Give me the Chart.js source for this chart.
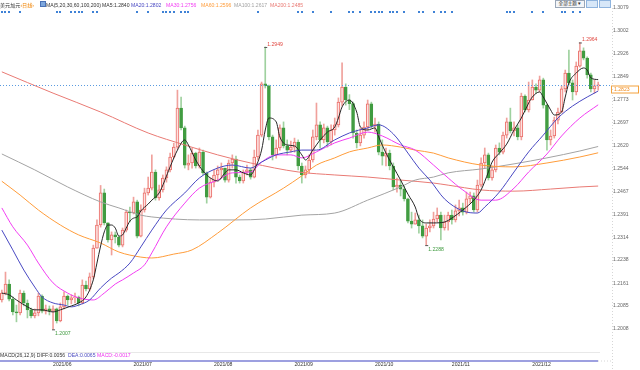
<!DOCTYPE html>
<html>
<head>
<meta charset="utf-8">
<script src="https://cdn.jsdelivr.net/npm/chart.js@4.4.1/dist/chart.umd.min.js"></script>
<style>
  html, body { margin: 0; padding: 0; background: #fff; }
  #wrap { position: relative; width: 640px; height: 370px; overflow: hidden;
          font-family: "Liberation Sans", "Noto Sans CJK SC", sans-serif; }
  #kline { position: absolute; left: 0; top: 0; }
  .t { position: absolute; font-size: 5.1px; line-height: 6px; white-space: nowrap; }
  .btn { position: absolute; top: 0; height: 6px; border: 1px solid #9aa7b8; background: #f3f5f8;
         font-size: 4.6px; line-height: 6px; color: #333; text-align: center; }
  .ico { position: absolute; top: 0; width: 10px; height: 6px; border: 1px solid #8fb4de; background: #d7e7f8; }
</style>
</head>
<body>
<div id="wrap">
  <canvas id="kline" width="640" height="370"></canvas>
  <div id="legend"></div>
  <div class="t" style="left:0;top:352px;color:#333">MACD(26,12,9) DIFF:0.0056</div>
  <div class="t" style="left:68px;top:352px;color:#4a4ac0">DEA:0.0065</div>
  <div class="t" style="left:97px;top:352px;color:#ee33ee">MACD:-0.0017</div>
  <div class="btn" style="left:555px;width:28px">全部主题▼</div>
  <div class="ico" style="left:586px"></div>
  <div class="ico" style="left:599px"></div>
</div>
<script>
// first candle is index -14 (2021-05-12), index 0 = 2021-06-01
const firstIdx = -14;

const open = [
  1.2105,1.2128,1.2158,1.2108,1.2065,1.2062,1.2128,1.2095,1.2072,1.2052,1.2062,1.2118,1.2068,1.2075,
  1.2068,1.2075,1.2035,1.2082,1.2118,1.2105,1.2112,1.2115,1.2095,1.2155,
  1.2142,1.2182,1.2278,1.2355,1.2462,1.2362,1.2305,1.2322,1.2315,1.2288,
  1.2338,1.2398,1.2395,1.2432,1.2318,1.2405,1.2462,1.2478,1.2532,1.2445,
  1.2472,1.2512,1.2539,1.2582,1.2615,1.2745,1.2679,1.2555,1.2562,1.2595,
  1.2552,1.2598,1.2529,1.2448,1.2498,1.2522,1.2539,1.2545,1.2505,1.2562,
  1.2575,1.2515,1.2502,1.2532,1.2539,1.2515,1.2582,1.2655,1.2826,1.2819,
  1.2649,1.2589,1.2612,1.2679,1.2619,1.2605,1.2615,1.2632,1.2552,1.2522,
  1.2539,1.2572,1.2649,1.2689,1.2639,1.2679,1.2632,1.2672,1.2689,1.2765,
  1.2815,1.2772,1.2760,1.2662,1.2629,1.2655,1.2682,1.2759,1.2685,1.2692,
  1.2598,1.2585,1.2595,1.2552,1.2482,1.2488,1.2475,1.2442,1.2368,1.2358,
  1.2372,1.2352,1.2318,1.2345,1.2352,1.2375,1.2388,1.2345,1.2365,1.2388,
  1.2372,1.2402,1.2412,1.2398,1.2442,1.2452,1.2405,1.2488,1.2562,1.2589,
  1.2512,1.2539,1.2612,1.2598,1.2655,1.2699,1.2669,1.2679,1.2649,1.2785,
  1.2739,1.2772,1.2815,1.2805,1.2839,1.2755,1.2639,1.2652,1.2705,1.2732,
  1.2809,1.2862,1.2829,1.2799,1.2885,1.2936,1.2912,1.2856,1.2809,1.2819
];
const high = [
  1.2138,1.2198,1.2172,1.2115,1.2088,1.2138,1.2135,1.2105,1.2078,1.2075,1.2128,1.2122,1.2088,1.2085,
  1.2085,1.2078,1.2095,1.2132,1.2122,1.2122,1.2128,1.2118,1.2172,1.2168,
  1.2195,1.2288,1.2372,1.2487,1.2475,1.2362,1.2332,1.2332,1.2318,1.2345,
  1.2405,1.2415,1.2448,1.2438,1.2422,1.2478,1.2515,1.2589,1.2539,1.2488,
  1.2522,1.2549,1.2595,1.2628,1.2805,1.2782,1.2685,1.2589,1.2612,1.2598,
  1.2612,1.2605,1.2532,1.2512,1.2539,1.2552,1.2562,1.2545,1.2572,1.2589,
  1.2585,1.2522,1.2539,1.2555,1.2545,1.2605,1.2672,1.2832,1.2949,1.2822,
  1.2655,1.2639,1.2689,1.2699,1.2639,1.2635,1.2645,1.2639,1.2562,1.2552,
  1.2589,1.2672,1.2762,1.2699,1.2692,1.2685,1.2689,1.2712,1.2779,1.2896,
  1.2826,1.2790,1.2765,1.2672,1.2679,1.2699,1.2772,1.2765,1.2712,1.2699,
  1.2639,1.2612,1.2605,1.2562,1.2512,1.2505,1.2485,1.2445,1.2398,1.2395,
  1.2388,1.2372,1.2358,1.2372,1.2398,1.2412,1.2398,1.2388,1.2398,1.2405,
  1.2422,1.2438,1.2428,1.2465,1.2465,1.2462,1.2505,1.2579,1.2612,1.2595,
  1.2552,1.2622,1.2629,1.2665,1.2712,1.2745,1.2699,1.2689,1.2795,1.2789,
  1.2832,1.2839,1.2826,1.2852,1.2845,1.2759,1.2672,1.2715,1.2745,1.2819,
  1.2872,1.2939,1.2839,1.2899,1.2964,1.2946,1.2916,1.2862,1.2839,1.2832
];
const low = [
  1.2098,1.2122,1.2102,1.2055,1.2032,1.2055,1.2085,1.2045,1.2045,1.2045,1.2052,1.2062,1.2058,1.2055,
  1.2007,1.2028,1.2032,1.2075,1.2088,1.2092,1.2095,1.2085,1.2092,1.2135,
  1.2135,1.2175,1.2278,1.2348,1.2355,1.2298,1.2255,1.2295,1.2282,1.2282,
  1.2332,1.2365,1.2392,1.2312,1.2315,1.2398,1.2455,1.2472,1.2438,1.2438,
  1.2465,1.2498,1.2532,1.2578,1.2608,1.2672,1.2545,1.2539,1.2545,1.2545,
  1.2545,1.2522,1.2428,1.2445,1.2482,1.2505,1.2512,1.2498,1.2498,1.2545,
  1.2495,1.2495,1.2495,1.2522,1.2508,1.2512,1.2572,1.2649,1.2812,1.2639,
  1.2572,1.2578,1.2605,1.2612,1.2589,1.2598,1.2598,1.2539,1.2495,1.2512,
  1.2529,1.2565,1.2639,1.2612,1.2629,1.2615,1.2622,1.2655,1.2682,1.2752,
  1.2755,1.2740,1.2645,1.2612,1.2619,1.2645,1.2672,1.2679,1.2665,1.2589,
  1.2555,1.2552,1.2539,1.2472,1.2465,1.2452,1.2435,1.2362,1.2345,1.2358,
  1.2328,1.2312,1.2288,1.2332,1.2345,1.2365,1.2305,1.2338,1.2338,1.2358,
  1.2365,1.2385,1.2388,1.2392,1.2428,1.2398,1.2398,1.2482,1.2545,1.2505,
  1.2505,1.2532,1.2589,1.2592,1.2645,1.2662,1.2652,1.2639,1.2639,1.2732,
  1.2732,1.2772,1.2795,1.2799,1.2745,1.2605,1.2622,1.2645,1.2692,1.2729,
  1.2799,1.2822,1.2772,1.2789,1.2882,1.2906,1.2845,1.2799,1.2795,1.2805
];
const close = [
  1.2128,1.2158,1.2108,1.2065,1.2062,1.2128,1.2095,1.2072,1.2052,1.2062,1.2118,1.2068,1.2075,1.2068,
  1.2075,1.2035,1.2082,1.2118,1.2105,1.2112,1.2115,1.2095,1.2155,1.2142,
  1.2182,1.2278,1.2355,1.2462,1.2362,1.2305,1.2322,1.2315,1.2288,1.2338,
  1.2398,1.2395,1.2432,1.2318,1.2405,1.2462,1.2478,1.2532,1.2445,1.2472,
  1.2512,1.2539,1.2582,1.2615,1.2745,1.2679,1.2555,1.2562,1.2595,1.2552,
  1.2598,1.2529,1.2448,1.2498,1.2522,1.2539,1.2545,1.2505,1.2562,1.2575,
  1.2515,1.2502,1.2532,1.2539,1.2515,1.2582,1.2655,1.2826,1.2819,1.2649,
  1.2589,1.2612,1.2679,1.2619,1.2605,1.2615,1.2632,1.2552,1.2522,1.2539,
  1.2572,1.2649,1.2689,1.2639,1.2679,1.2632,1.2672,1.2689,1.2765,1.2815,
  1.2772,1.2760,1.2662,1.2629,1.2655,1.2682,1.2759,1.2685,1.2692,1.2598,
  1.2585,1.2595,1.2552,1.2482,1.2488,1.2475,1.2442,1.2368,1.2358,1.2372,
  1.2352,1.2318,1.2345,1.2352,1.2375,1.2388,1.2345,1.2365,1.2388,1.2372,
  1.2402,1.2412,1.2398,1.2442,1.2452,1.2405,1.2488,1.2562,1.2589,1.2512,
  1.2539,1.2612,1.2598,1.2655,1.2699,1.2669,1.2679,1.2649,1.2785,1.2739,
  1.2772,1.2815,1.2805,1.2839,1.2755,1.2639,1.2652,1.2705,1.2732,1.2809,
  1.2862,1.2829,1.2799,1.2885,1.2936,1.2912,1.2856,1.2809,1.2819,1.2823
];

// moving averages as [candle index, value]
const ma5 = [[-14,1.2128],[-12,1.2122],[-10,1.2105],[-7,1.2082],[-5,1.2072],[-3,1.2072],[0,1.2065],[2,1.2072],[5,1.2085],[7,1.2095],[9,1.2115],[11,1.2172],[12,1.2228],[13,1.2285],[14,1.2332],[15,1.2355],[16,1.2355],[17,1.2345],[18,1.2318],[19,1.2322],[20,1.2345],[21,1.2368],[22,1.2378],[23,1.2382],[24,1.2402],[26,1.2425],[27,1.2438],[29,1.2462],[32,1.2549],[34,1.2605],[36,1.2639],[37,1.2622],[39,1.2572],[41,1.2535],[43,1.2512],[45,1.2502],[47,1.2529],[48,1.2539],[50,1.2539],[52,1.2529],[54,1.2522],[55,1.2539],[57,1.2605],[58,1.2672],[59,1.2712],[61,1.2699],[62,1.2649],[64,1.2622],[66,1.2619],[68,1.2589],[69,1.2572],[71,1.2605],[73,1.2639],[75,1.2665],[77,1.2682],[78,1.2712],[79,1.2749],[81,1.2772],[83,1.2732],[84,1.2682],[86,1.2672],[88,1.2679],[89,1.2649],[91,1.2595],[93,1.2549],[95,1.2505],[97,1.2458],[99,1.2415],[100,1.2378],[102,1.2362],[104,1.2362],[107,1.2365],[109,1.2378],[112,1.2405],[115,1.2438],[117,1.2472],[119,1.2532],[120,1.2565],[122,1.2595],[124,1.2625],[126,1.2672],[128,1.2712],[130,1.2762],[131,1.2782],[133,1.2799],[134,1.2782],[136,1.2739],[137,1.2722],[139,1.2732],[140,1.2782],[141,1.2829],[143,1.2862],[145,1.2879],[146,1.2872],[147,1.2846],[149,1.2840]];
const ma20 = [[-14,1.2338],[-11,1.2272],[-8,1.2205],[-5,1.2148],[-3,1.2115],[0,1.2095],[3,1.2088],[5,1.2082],[7,1.2088],[10,1.2105],[13,1.2145],[16,1.2178],[18,1.2195],[21,1.2228],[24,1.2282],[27,1.2338],[31,1.2405],[36,1.2462],[40,1.2512],[45,1.2545],[49,1.2555],[54,1.2545],[57,1.2565],[61,1.2589],[65,1.2599],[68,1.2605],[72,1.2605],[77,1.2639],[81,1.2662],[86,1.2679],[89,1.2689],[93,1.2659],[97,1.2595],[100,1.2545],[103,1.2505],[107,1.2442],[112,1.2402],[116,1.2395],[118,1.2415],[122,1.2465],[126,1.2532],[130,1.2599],[134,1.2655],[138,1.2712],[142,1.2752],[146,1.2782],[149,1.2802]];
const ma30 = [[-14,1.2412],[-11,1.2349],[-7,1.2288],[-4,1.2228],[0,1.2162],[4,1.2128],[7,1.2112],[11,1.2105],[14,1.2128],[17,1.2158],[19,1.2172],[22,1.2195],[25,1.2222],[27,1.2262],[31,1.2349],[36,1.2428],[40,1.2478],[45,1.2505],[49,1.2529],[54,1.2532],[57,1.2565],[61,1.2589],[65,1.2589],[68,1.2579],[72,1.2599],[77,1.2629],[81,1.2645],[86,1.2665],[90,1.2652],[95,1.2622],[99,1.2605],[104,1.2555],[108,1.2512],[112,1.2472],[117,1.2438],[121,1.2438],[126,1.2478],[130,1.2532],[135,1.2592],[139,1.2652],[144,1.2712],[149,1.2756]];
const ma60 = [[-14,1.2501],[-9,1.2455],[-4,1.2405],[2,1.2355],[7,1.2322],[13,1.2295],[18,1.2265],[24,1.2248],[27,1.2245],[33,1.2258],[38,1.2272],[45,1.2328],[54,1.2412],[63,1.2478],[68,1.2519],[72,1.2555],[77,1.2579],[81,1.2599],[86,1.2612],[90,1.2622],[95,1.2615],[99,1.2605],[104,1.2595],[108,1.2579],[117,1.2555],[126,1.2549],[135,1.2562],[144,1.2582],[149,1.2596]];
const ma100 = [[-14,1.2592],[-5,1.2539],[4,1.2482],[13,1.2432],[18,1.2412],[24,1.2388],[27,1.2382],[40,1.2372],[50,1.2372],[58,1.2375],[68,1.2388],[77,1.2395],[86,1.2438],[95,1.2482],[99,1.2505],[104,1.2515],[108,1.2529],[117,1.2542],[126,1.2559],[135,1.2579],[144,1.2602],[149,1.2617]];
const ma200 = [[-14,1.2866],[0,1.2795],[13,1.2732],[26,1.2662],[36,1.2622],[45,1.2589],[54,1.2562],[67,1.2532],[77,1.2522],[86,1.2515],[95,1.2505],[104,1.2495],[108,1.2488],[117,1.2472],[126,1.2468],[136,1.2475],[144,1.2482],[149,1.2485]];

const priceTicks = [1.3079,1.3002,1.2926,1.2849,1.2773,1.2697,1.2620,1.2544,1.2467,1.2391,1.2314,1.2238,1.2161,1.2085,1.2008];
const monthIdx = [0, 22, 44, 66, 88, 109, 131];
const monthLabels = ['2021/06', '2021/07', '2021/08', '2021/09', '2021/10', '2021/11', '2021/12'];
const highMarks = [58, 144];   // candles whose high is labelled
const lowMarks = [0, 102];     // candles whose low is labelled
const eventIdx = [-14,-13,-12,-9,1,2,5,6,7,8,11,12,23,26,30,31,32,33,35,36,37,56,67,68,71,76,81,82,84,87,88,89,90,92,93,94,96,100,101,104,106,107,109,124,125,126,131,134,139,140,142,144];

const maList = [
  ['MA5', ma5, '#262626'],
  ['MA20', ma20, '#4848c2'],
  ['MA30', ma30, '#f23df2'],
  ['MA60', ma60, '#ff9c3a'],
  ['MA100', ma100, '#a3a3a3'],
  ['MA200', ma200, '#e97a74']
];

const UP_LINE = '#ea6d68', UP_FILL = '#fde1df', UP_WICK = '#f0a19c';
const DN_FILL = '#409c40', DN_WICK = '#9fd19f';

// legend row at the top
const legendPos = [102, 131, 166, 201, 234, 270];
let html = '<div class="t" style="left:0;top:2px;color:#333">美元加元<span style="color:#f08300">‹日线›</span></div>' +
  '<div class="ico" style="left:40px;width:4px;height:4px;top:1px;background:#7da7dd;border-color:#4b72b5"></div>' +
  '<div class="t" style="left:46px;top:2px;color:#333">MA(5,20,30,60,100,200)</div>';
maList.forEach(([name, pts, color], n) => {
  const col = n === 0 ? '#333' : color;
  html += `<div class="t" style="left:${legendPos[n]}px;top:2px;color:${col}">${name}:${pts[pts.length - 1][1].toFixed(4)}</div>`;
});
document.getElementById('legend').innerHTML = html;

const isUp = close.map((c, k) => c >= open[k]);

const decor = {
  id: 'decor',
  afterDatasetsDraw(chart) {
    const { ctx, chartArea: a, scales: { x, y } } = chart;
    ctx.save();

    // last price dotted line + box
    const last = close[close.length - 1];
    const py = Math.round(y.getPixelForValue(last)) + 0.5;
    ctx.strokeStyle = '#5a9be0';
    ctx.lineWidth = 1;
    ctx.setLineDash([1, 2]);
    ctx.beginPath(); ctx.moveTo(a.left, py); ctx.lineTo(612, py); ctx.stroke();
    ctx.setLineDash([]);
    ctx.fillStyle = '#fff';
    ctx.fillRect(611.5, py + 0.5, 27, 7);
    ctx.strokeStyle = '#f4a13c';
    ctx.strokeRect(611.5, py + 0.5, 27, 7);
    ctx.fillStyle = '#f08a1c';
    ctx.font = "5.1px 'Liberation Sans'";
    ctx.textBaseline = 'middle';
    ctx.textAlign = 'left';
    ctx.fillText(last.toFixed(4), 614, py + 4.2);

    // event markers above the candles
    ctx.fillStyle = '#3f82d6';
    eventIdx.forEach(i => {
      ctx.fillRect(Math.round(x.getPixelForValue(i)) - 1, 11, 2, 2);
    });

    // high / low labels
    ctx.font = "5.1px 'Liberation Sans'";
    highMarks.forEach(i => {
      const v = high[i - firstIdx];
      const px = x.getPixelForValue(i), yy = y.getPixelForValue(v);
      ctx.strokeStyle = '#555';
      ctx.beginPath(); ctx.moveTo(px - 1, yy + 0.5); ctx.lineTo(px + 2, yy + 0.5); ctx.stroke();
      ctx.fillStyle = '#e0463f';
      ctx.textBaseline = 'bottom';
      ctx.fillText(v.toFixed(4), px + 2, yy);
    });
    lowMarks.forEach(i => {
      const v = low[i - firstIdx];
      const px = x.getPixelForValue(i), yy = y.getPixelForValue(v);
      ctx.strokeStyle = '#555';
      ctx.beginPath(); ctx.moveTo(px - 1, yy + 0.5); ctx.lineTo(px + 2, yy + 0.5); ctx.stroke();
      ctx.fillStyle = '#3e9a3e';
      ctx.textBaseline = 'top';
      ctx.fillText(v.toFixed(4), px + 2, yy + 1.5);
    });

    // MACD panel (collapsed)
    ctx.strokeStyle = '#e8e8e8';
    ctx.beginPath(); ctx.moveTo(0, 352.5); ctx.lineTo(600, 352.5); ctx.stroke();
    ctx.strokeStyle = '#7c80d6';
    ctx.lineWidth = 1.5;
    ctx.beginPath(); ctx.moveTo(0, 361); ctx.lineTo(598, 361); ctx.stroke();
    ctx.lineWidth = 1;
    ctx.strokeStyle = '#d6d6d6';
    ctx.setLineDash([1, 2]);
    ctx.beginPath(); ctx.moveTo(598, 361); ctx.lineTo(612, 361); ctx.stroke();
    ctx.beginPath(); ctx.moveTo(612.5, 8); ctx.lineTo(612.5, 370); ctx.stroke();
    ctx.restore();
  }
};

const datasets = [];
maList.forEach(([name, pts, color]) => {
  datasets.push({
    type: 'line', label: name,
    data: pts.map(([i, v]) => ({ x: i, y: v })),
    borderColor: color, borderWidth: 1, pointRadius: 0,
    cubicInterpolationMode: 'monotone', order: 0
  });
});
datasets.push({
  type: 'bar', label: 'body',
  data: close.map((c, k) => ({ x: firstIdx + k, y: [open[k], c] })),
  backgroundColor: isUp.map(u => u ? UP_FILL : DN_FILL),
  borderColor: isUp.map(u => u ? UP_LINE : DN_FILL),
  borderWidth: 1, borderSkipped: false, barThickness: 3, minBarLength: 1,
  grouped: false, order: 1
});
datasets.push({
  type: 'bar', label: 'wick',
  data: high.map((h, k) => ({ x: firstIdx + k, y: [low[k], h] })),
  backgroundColor: isUp.map(u => u ? UP_WICK : DN_WICK),
  borderWidth: 0, barThickness: 1, grouped: false, order: 2
});

Chart.defaults.font.family = "'Liberation Sans', 'Noto Sans CJK SC', sans-serif";

new Chart(document.getElementById('kline'), {
  type: 'bar',
  data: { datasets },
  options: {
    responsive: false, animation: false, events: [],
    layout: { padding: 0, autoPadding: false },
    plugins: { legend: { display: false }, tooltip: { enabled: false } },
    scales: {
      x: {
        type: 'linear', offset: false,
        min: firstIdx - 0.5, max: firstIdx + close.length - 0.5,
        grid: { display: false, drawTicks: false }, border: { display: false },
        afterBuildTicks: s => { s.ticks = monthIdx.map(v => ({ value: v })); },
        afterFit: s => { s.height = 35; s.paddingLeft = 0; s.paddingRight = 0; },
        ticks: {
          autoSkip: false, maxRotation: 0, align: 'start', padding: 27,
          color: '#333', font: { size: 5.1 },
          callback: (v, n) => monthLabels[n]
        }
      },
      y: {
        position: 'right', min: 1.19881, max: 1.31057,
        grid: { display: false, drawTicks: false }, border: { display: false },
        afterBuildTicks: s => { s.ticks = priceTicks.map(v => ({ value: v })); },
        afterFit: s => { s.width = 40; s.paddingTop = 0; s.paddingBottom = 0; },
        ticks: {
          padding: 13, color: '#666', font: { size: 5.1 },
          callback: v => v.toFixed(4)
        }
      }
    }
  },
  plugins: [decor]
});
</script>
</body>
</html>
